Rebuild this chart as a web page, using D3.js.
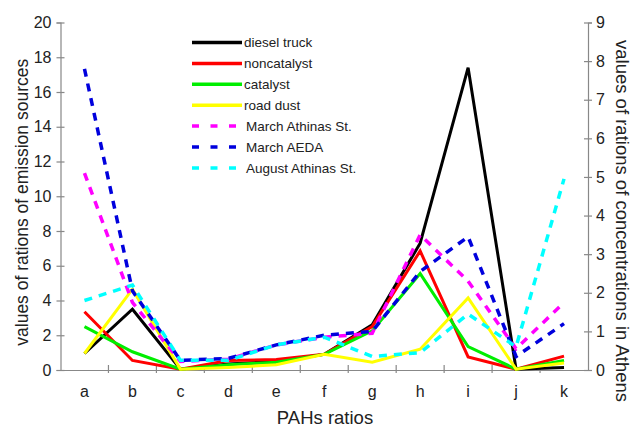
<!DOCTYPE html>
<html>
<head>
<meta charset="utf-8">
<script src="https://cdn.jsdelivr.net/npm/d3@7"></script>
<style>
  body { margin: 0; background: #fff; }
  svg text { font-family: "Liberation Sans", Arial, sans-serif; fill: #222; }
</style>
</head>
<body>
<div id="chart"></div>
<script>
// categories on the x axis
const ratios = ["a","b","c","d","e","f","g","h","i","j","k"];

// emission sources (left axis)
const dieselTruck = [0.95, 3.5, 0.05, 0.35, 0.5, 0.9, 2.6, 7.3, 17.4, 0.05, 0.15];
const noncatalyst = [3.35, 0.55, 0.05, 0.55, 0.6, 0.9, 2.5, 6.85, 0.75, 0.05, 0.8];
const catalyst    = [2.5, 1.05, 0.05, 0.3, 0.45, 0.9, 2.25, 5.55, 1.35, 0.05, 0.55];
const roadDust    = [0.95, 4.65, 0.05, 0.15, 0.3, 0.9, 0.45, 1.2, 4.15, 0.05, 0.4];

// measured concentrations in Athens (right axis)
const marchAthinas  = [5.1, 1.75, 0.22, 0.28, 0.65, 0.85, 0.95, 3.5, 2.3, 0.55, 1.75];
const marchAEDA     = [7.8, 2.05, 0.25, 0.3, 0.65, 0.9, 1.0, 2.55, 3.45, 0.35, 1.2];
const augustAthinas = [1.8, 2.2, 0.25, 0.25, 0.65, 0.85, 0.35, 0.45, 1.45, 0.6, 4.95];

const leftTicks = d3.range(0, 21, 2);
const rightTicks = d3.range(0, 10, 1);

const series = [
    {name: "diesel truck", values: dieselTruck, color: "#000000", dashed: false, axis: "left"},
    {name: "noncatalyst", values: noncatalyst, color: "#ff0000", dashed: false, axis: "left"},
    {name: "catalyst", values: catalyst, color: "#00ee00", dashed: false, axis: "left"},
    {name: "road dust", values: roadDust, color: "#ffff00", dashed: false, axis: "left"},
    {name: "March Athinas St.", values: marchAthinas, color: "#ff00ff", dashed: true, axis: "right"},
    {name: "March AEDA", values: marchAEDA, color: "#0000dd", dashed: true, axis: "right"},
    {name: "August Athinas St.", values: augustAthinas, color: "#00ffff", dashed: true, axis: "right"}
];

const width = 633, height = 427;
const mLeft = 60.5, mRight = 588, mTop = 22.5, mBottom = 370;

const svg = d3.select("#chart").append("svg")
    .attr("width", width)
    .attr("height", height);

const xBand = d3.scaleBand().domain(ratios).range([mLeft, mRight]);
const xPos = c => xBand(c) + xBand.bandwidth() / 2;
const yLeft = d3.scaleLinear().domain([0, 20]).range([mBottom, mTop]);
const yRight = d3.scaleLinear().domain([0, 9]).range([mBottom, mTop]);

// left axis
const gL = svg.append("g")
    .attr("transform", "translate(" + mLeft + ",0)")
    .call(d3.axisLeft(yLeft).tickValues(leftTicks).tickSize(4).tickPadding(5));
gL.selectAll(".tick line").attr("x2", 4).attr("x1", -4);

// right axis
const gR = svg.append("g")
    .attr("transform", "translate(" + mRight + ",0)")
    .call(d3.axisRight(yRight).tickValues(rightTicks).tickSize(4).tickPadding(4));
gR.selectAll(".tick line").attr("x1", -4).attr("x2", 4);

// bottom axis: labels in the band centres, ticks between bands
const gB = svg.append("g")
    .attr("transform", "translate(0," + mBottom + ")")
    .call(d3.axisBottom(xBand).tickSize(0).tickPadding(16));
gB.selectAll(".tick")
    .filter((d, i) => i > 0)
    .append("line")
    .attr("x1", -xBand.bandwidth() / 2)
    .attr("x2", -xBand.bandwidth() / 2)
    .attr("y1", -5)
    .attr("y2", 3);

[gL, gR, gB].forEach(g => {
    g.select(".domain").attr("stroke", "#888").attr("stroke-width", 1.2);
    g.selectAll(".tick line").attr("stroke", "#888").attr("stroke-width", 1.2);
    g.selectAll(".tick text").attr("font-size", 16).attr("fill", "#222");
});

// lines
const plot = svg.append("g");
series.forEach(s => {
    const y = s.axis === "left" ? yLeft : yRight;
    const line = d3.line()
        .x((d, i) => xPos(ratios[i]))
        .y(d => y(d));
    plot.append("path")
        .datum(s.values)
        .attr("d", line)
        .attr("fill", "none")
        .attr("stroke", s.color)
        .attr("stroke-width", s.dashed ? 3.5 : 3)
        .attr("stroke-dasharray", s.dashed ? "8,7" : null)
        .attr("stroke-linejoin", "miter");
});

// legend
const legend = svg.append("g").attr("transform", "translate(192,42.5)");
series.forEach((s, i) => {
    const row = legend.append("g").attr("transform", "translate(0," + (i * 20.9) + ")");
    row.append("line")
        .attr("x1", 0).attr("x2", 50)
        .attr("stroke", s.color)
        .attr("stroke-width", 3.5)
        .attr("stroke-dasharray", s.dashed ? "7,11.5" : null);
    row.append("text")
        .attr("x", s.dashed ? 54 : 52)
        .attr("y", 0)
        .attr("dy", "0.35em")
        .attr("font-size", 13.5)
        .text(s.name);
});

// axis titles
svg.append("text")
    .attr("transform", "translate(22," + ((mTop + mBottom) / 2 + 6) + ") rotate(-90)")
    .attr("text-anchor", "middle")
    .attr("dy", "0.35em")
    .attr("font-size", 17.5)
    .text("values of rations of emission sources");

svg.append("text")
    .attr("transform", "translate(622,221) rotate(90)")
    .attr("text-anchor", "middle")
    .attr("dy", "0.35em")
    .attr("font-size", 18.5)
    .text("values of rations of concentrations in Athens");

svg.append("text")
    .attr("x", 325)
    .attr("y", 418)
    .attr("text-anchor", "middle")
    .attr("dy", "0.35em")
    .attr("font-size", 18.5)
    .text("PAHs ratios");
</script>
</body>
</html>
